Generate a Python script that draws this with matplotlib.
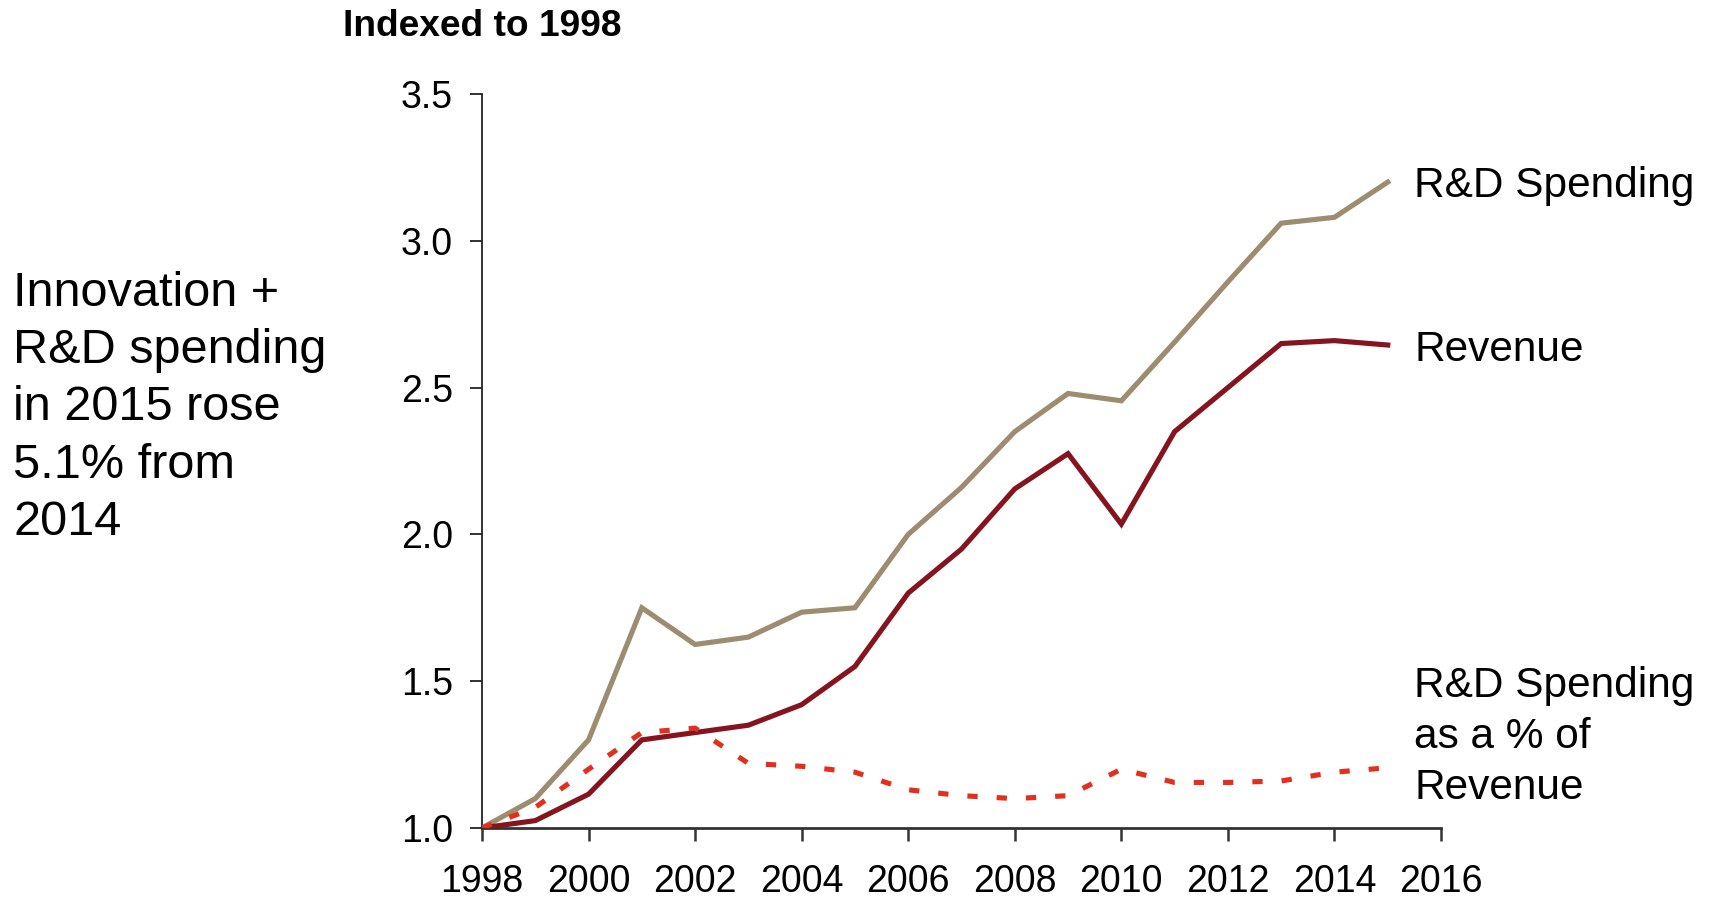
import numpy as np
import matplotlib
matplotlib.use("Agg")
import matplotlib.pyplot as plt

plt.rcParams['font.family'] = ['Liberation Sans', 'DejaVu Sans']

# yearly series, indexed to 1998 = 1.0
years = list(range(1998, 2016))
rd_spending = [1.00, 1.10, 1.30, 1.75, 1.625, 1.65, 1.735, 1.75, 2.00, 2.16,
               2.35, 2.48, 2.455, 2.655, 2.86, 3.06, 3.08, 3.20]
revenue = [1.00, 1.025, 1.115, 1.30, 1.325, 1.35, 1.42, 1.55, 1.80, 1.95,
           2.155, 2.275, 2.035, 2.35, 2.50, 2.65, 2.66, 2.645]
rd_pct_revenue = [1.00, 1.07, 1.20, 1.325, 1.34, 1.22, 1.21, 1.19, 1.13, 1.11,
                  1.10, 1.11, 1.20, 1.155, 1.155, 1.16, 1.19, 1.205]

x_ticks = list(range(1998, 2017, 2))
y_ticks = [1.0, 1.5, 2.0, 2.5, 3.0, 3.5]

col_rd = '#9c8c70'
col_rev = '#85141f'
col_pct = '#e3301e'

fig = plt.figure(figsize=(17.11, 8.98), dpi=100)
ax = fig.add_axes([0.2817, 0.0780, 0.8422 - 0.2817, 0.8953 - 0.0780])

ax.plot(years, rd_spending, color=col_rd, lw=3.7, solid_joinstyle='miter')
ax.plot(years, revenue, color=col_rev, lw=3.7, solid_joinstyle='miter')
ax.plot(years, rd_pct_revenue, color=col_pct, lw=3.7, linestyle=(0, (2.0, 3.7)))

ax.set_xlim(1998, 2016)
ax.set_ylim(1.0, 3.5)
ax.set_xticks(x_ticks)
ax.set_yticks(y_ticks)
ax.set_yticklabels([f'{v:.1f}' for v in y_ticks])

for s in ['top', 'right']:
    ax.spines[s].set_visible(False)
ax.spines['left'].set_linewidth(1.3)
ax.spines['left'].set_color('#222222')
ax.spines['bottom'].set_linewidth(2.0)
ax.spines['bottom'].set_color('#333333')
ax.spines['left'].set_zorder(0.5)
ax.spines['bottom'].set_zorder(0.5)
ax.tick_params(axis='y', length=9, width=1.3, color='#222222', labelsize=27, pad=12)
ax.tick_params(axis='x', length=9, width=1.8, color='#333333', labelsize=27, pad=17)

# line labels on the right
fig.text(1414 / 1711, 1 - 186 / 898, 'R&D Spending', fontsize=30.5, va='center', ha='left')
fig.text(1414 / 1711, 1 - 350 / 898, 'Revenue', fontsize=30.5, va='center', ha='left')
fig.text(1414 / 1711, 1 - 737 / 898, 'R&D Spending\nas a % of\nRevenue', fontsize=30.5,
         va='center', ha='left', linespacing=1.34)

# headings
fig.text(343 / 1711, 1 - 27 / 898, 'Indexed to 1998', fontsize=26.7, fontweight='bold',
         va='center', ha='left')
fig.text(13 / 1711, 1 - 408 / 898, 'Innovation +\nR&D spending\nin 2015 rose\n5.1% from\n2014',
         fontsize=35, va='center', ha='left', linespacing=1.35)

fig.savefig('out.png', dpi=100)
